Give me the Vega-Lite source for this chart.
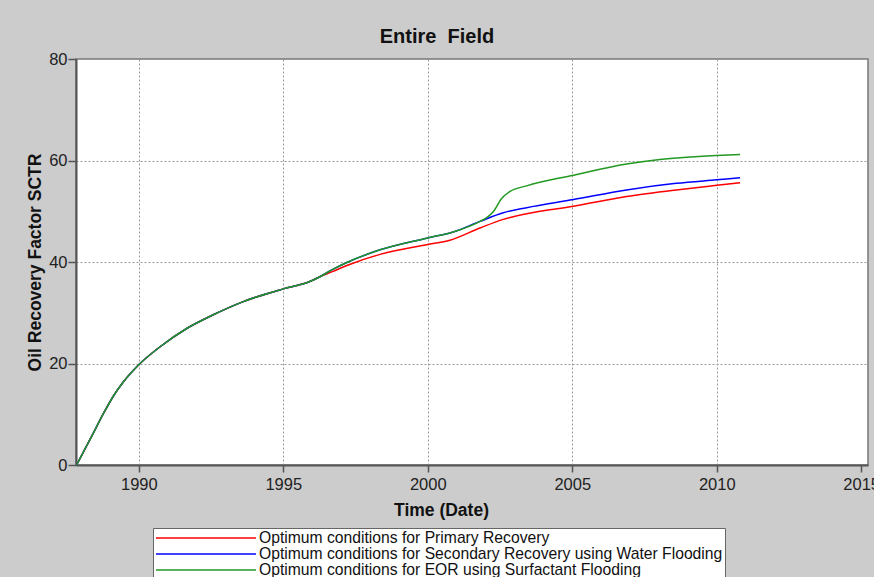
{
  "$schema": "https://vega.github.io/schema/vega-lite/v6.json",
  "autosize": "none",
  "width": 792,
  "height": 406,
  "padding": {"left": 76, "top": 59, "right": 6, "bottom": 112},
  "background": "#cccccc",
  "title": {
    "text": "Entire\u00a0 Field",
    "font": "Liberation Sans",
    "fontSize": 20,
    "fontWeight": "bold",
    "color": "#111111",
    "anchor": "middle",
    "dx": -35,
    "offset": 4
  },
  "config": {
    "view": {"fill": "white", "stroke": "#777777", "strokeWidth": 1.5},
    "axis": {
      "labelFont": "Liberation Sans",
      "labelFontSize": 16.5,
      "labelColor": "#222222",
      "titleFont": "Liberation Sans",
      "titleFontSize": 17.5,
      "titleFontWeight": "bold",
      "titleColor": "#111111",
      "domainColor": "#555555",
      "domainWidth": 2,
      "tickColor": "#555555",
      "tickWidth": 1.5,
      "gridColor": "#999999",
      "gridDash": [2, 2],
      "gridWidth": 1
    },
    "legend": {
      "orient": "none",
      "legendX": 77,
      "legendY": 469,
      "direction": "vertical",
      "symbolType": "stroke",
      "symbolSize": 10000,
      "symbolStrokeWidth": 1.5,
      "clipHeight": 16,
      "rowPadding": 0,
      "labelFont": "Liberation Sans",
      "labelFontSize": 15.7,
      "labelColor": "#111111",
      "labelOffset": 2,
      "labelLimit": 0,
      "padding": 2,
      "strokeColor": "#666666",
      "fillColor": "white",
      "title": null
    }
  },
  "data": {
    "values": [
      {"case": "Optimum conditions for Primary Recovery", "date": "1987-11-06", "rf": 0},
      {"case": "Optimum conditions for Primary Recovery", "date": "1988-05-26", "rf": 6.0},
      {"case": "Optimum conditions for Primary Recovery", "date": "1988-10-20", "rf": 10.4},
      {"case": "Optimum conditions for Primary Recovery", "date": "1989-02-14", "rf": 13.6},
      {"case": "Optimum conditions for Primary Recovery", "date": "1989-06-21", "rf": 16.4},
      {"case": "Optimum conditions for Primary Recovery", "date": "1989-12-28", "rf": 19.7},
      {"case": "Optimum conditions for Primary Recovery", "date": "1990-09-27", "rf": 23.3},
      {"case": "Optimum conditions for Primary Recovery", "date": "1991-08-29", "rf": 26.9},
      {"case": "Optimum conditions for Primary Recovery", "date": "1992-07-30", "rf": 29.6},
      {"case": "Optimum conditions for Primary Recovery", "date": "1993-08-14", "rf": 32.2},
      {"case": "Optimum conditions for Primary Recovery", "date": "1995-01-01", "rf": 34.7},
      {"case": "Optimum conditions for Primary Recovery", "date": "1995-11-24", "rf": 36.1},
      {"case": "Optimum conditions for Primary Recovery", "date": "1996-04-08", "rf": 37.1},
      {"case": "Optimum conditions for Primary Recovery", "date": "1996-09-12", "rf": 38.1},
      {"case": "Optimum conditions for Primary Recovery", "date": "1997-03-15", "rf": 39.3},
      {"case": "Optimum conditions for Primary Recovery", "date": "1998-05-08", "rf": 41.5},
      {"case": "Optimum conditions for Primary Recovery", "date": "1999-12-17", "rf": 43.4},
      {"case": "Optimum conditions for Primary Recovery", "date": "2000-10-08", "rf": 44.3},
      {"case": "Optimum conditions for Primary Recovery", "date": "2001-10-23", "rf": 46.7},
      {"case": "Optimum conditions for Primary Recovery", "date": "2002-08-14", "rf": 48.4},
      {"case": "Optimum conditions for Primary Recovery", "date": "2003-06-03", "rf": 49.5},
      {"case": "Optimum conditions for Primary Recovery", "date": "2005-01-15", "rf": 51.0},
      {"case": "Optimum conditions for Primary Recovery", "date": "2006-11-17", "rf": 52.9},
      {"case": "Optimum conditions for Primary Recovery", "date": "2008-08-07", "rf": 54.2},
      {"case": "Optimum conditions for Primary Recovery", "date": "2010-01-01", "rf": 55.1},
      {"case": "Optimum conditions for Primary Recovery", "date": "2010-10-23", "rf": 55.6},

      {"case": "Optimum conditions for Secondary Recovery using Water Flooding", "date": "1987-11-06", "rf": 0},
      {"case": "Optimum conditions for Secondary Recovery using Water Flooding", "date": "1988-05-26", "rf": 6.0},
      {"case": "Optimum conditions for Secondary Recovery using Water Flooding", "date": "1988-10-20", "rf": 10.4},
      {"case": "Optimum conditions for Secondary Recovery using Water Flooding", "date": "1989-02-14", "rf": 13.6},
      {"case": "Optimum conditions for Secondary Recovery using Water Flooding", "date": "1989-06-21", "rf": 16.4},
      {"case": "Optimum conditions for Secondary Recovery using Water Flooding", "date": "1989-12-28", "rf": 19.7},
      {"case": "Optimum conditions for Secondary Recovery using Water Flooding", "date": "1990-09-27", "rf": 23.3},
      {"case": "Optimum conditions for Secondary Recovery using Water Flooding", "date": "1991-08-29", "rf": 26.9},
      {"case": "Optimum conditions for Secondary Recovery using Water Flooding", "date": "1992-07-30", "rf": 29.6},
      {"case": "Optimum conditions for Secondary Recovery using Water Flooding", "date": "1993-08-14", "rf": 32.2},
      {"case": "Optimum conditions for Secondary Recovery using Water Flooding", "date": "1995-01-01", "rf": 34.7},
      {"case": "Optimum conditions for Secondary Recovery using Water Flooding", "date": "1995-11-24", "rf": 36.1},
      {"case": "Optimum conditions for Secondary Recovery using Water Flooding", "date": "1996-04-08", "rf": 37.1},
      {"case": "Optimum conditions for Secondary Recovery using Water Flooding", "date": "1996-09-12", "rf": 38.5},
      {"case": "Optimum conditions for Secondary Recovery using Water Flooding", "date": "1997-03-15", "rf": 39.9},
      {"case": "Optimum conditions for Secondary Recovery using Water Flooding", "date": "1998-05-08", "rf": 42.4},
      {"case": "Optimum conditions for Secondary Recovery using Water Flooding", "date": "1999-12-17", "rf": 44.7},
      {"case": "Optimum conditions for Secondary Recovery using Water Flooding", "date": "2000-11-17", "rf": 45.9},
      {"case": "Optimum conditions for Secondary Recovery using Water Flooding", "date": "2001-10-23", "rf": 48.0},
      {"case": "Optimum conditions for Secondary Recovery using Water Flooding", "date": "2002-08-14", "rf": 49.7},
      {"case": "Optimum conditions for Secondary Recovery using Water Flooding", "date": "2003-06-03", "rf": 50.7},
      {"case": "Optimum conditions for Secondary Recovery using Water Flooding", "date": "2005-01-15", "rf": 52.3},
      {"case": "Optimum conditions for Secondary Recovery using Water Flooding", "date": "2006-11-17", "rf": 54.2},
      {"case": "Optimum conditions for Secondary Recovery using Water Flooding", "date": "2008-08-07", "rf": 55.5},
      {"case": "Optimum conditions for Secondary Recovery using Water Flooding", "date": "2010-01-01", "rf": 56.2},
      {"case": "Optimum conditions for Secondary Recovery using Water Flooding", "date": "2010-10-23", "rf": 56.6},

      {"case": "Optimum conditions for EOR using Surfactant Flooding", "date": "1987-11-06", "rf": 0},
      {"case": "Optimum conditions for EOR using Surfactant Flooding", "date": "1988-05-26", "rf": 6.0},
      {"case": "Optimum conditions for EOR using Surfactant Flooding", "date": "1988-10-20", "rf": 10.4},
      {"case": "Optimum conditions for EOR using Surfactant Flooding", "date": "1989-02-14", "rf": 13.6},
      {"case": "Optimum conditions for EOR using Surfactant Flooding", "date": "1989-06-21", "rf": 16.4},
      {"case": "Optimum conditions for EOR using Surfactant Flooding", "date": "1989-12-28", "rf": 19.7},
      {"case": "Optimum conditions for EOR using Surfactant Flooding", "date": "1990-09-27", "rf": 23.3},
      {"case": "Optimum conditions for EOR using Surfactant Flooding", "date": "1991-08-29", "rf": 26.9},
      {"case": "Optimum conditions for EOR using Surfactant Flooding", "date": "1992-07-30", "rf": 29.6},
      {"case": "Optimum conditions for EOR using Surfactant Flooding", "date": "1993-08-14", "rf": 32.2},
      {"case": "Optimum conditions for EOR using Surfactant Flooding", "date": "1995-01-01", "rf": 34.7},
      {"case": "Optimum conditions for EOR using Surfactant Flooding", "date": "1995-11-24", "rf": 36.1},
      {"case": "Optimum conditions for EOR using Surfactant Flooding", "date": "1996-04-08", "rf": 37.1},
      {"case": "Optimum conditions for EOR using Surfactant Flooding", "date": "1996-09-12", "rf": 38.5},
      {"case": "Optimum conditions for EOR using Surfactant Flooding", "date": "1997-03-15", "rf": 39.9},
      {"case": "Optimum conditions for EOR using Surfactant Flooding", "date": "1998-05-08", "rf": 42.4},
      {"case": "Optimum conditions for EOR using Surfactant Flooding", "date": "1999-12-17", "rf": 44.7},
      {"case": "Optimum conditions for EOR using Surfactant Flooding", "date": "2000-11-17", "rf": 45.9},
      {"case": "Optimum conditions for EOR using Surfactant Flooding", "date": "2001-10-23", "rf": 48.0},
      {"case": "Optimum conditions for EOR using Surfactant Flooding", "date": "2002-01-20", "rf": 48.8},
      {"case": "Optimum conditions for EOR using Surfactant Flooding", "date": "2002-04-08", "rf": 49.9},
      {"case": "Optimum conditions for EOR using Surfactant Flooding", "date": "2002-07-23", "rf": 52.5},
      {"case": "Optimum conditions for EOR using Surfactant Flooding", "date": "2002-11-06", "rf": 53.9},
      {"case": "Optimum conditions for EOR using Surfactant Flooding", "date": "2003-06-03", "rf": 55.0},
      {"case": "Optimum conditions for EOR using Surfactant Flooding", "date": "2005-01-15", "rf": 57.1},
      {"case": "Optimum conditions for EOR using Surfactant Flooding", "date": "2006-11-17", "rf": 59.3},
      {"case": "Optimum conditions for EOR using Surfactant Flooding", "date": "2008-01-15", "rf": 60.2},
      {"case": "Optimum conditions for EOR using Surfactant Flooding", "date": "2010-01-01", "rf": 61.0},
      {"case": "Optimum conditions for EOR using Surfactant Flooding", "date": "2010-10-23", "rf": 61.2}
    ]
  },
  "mark": {"type": "line", "strokeWidth": 1.5, "interpolate": "monotone", "clip": true},
  "encoding": {
    "x": {
      "field": "date",
      "type": "temporal",
      "scale": {
        "type": "utc",
        "domain": [
          {"year": 1987, "month": 10, "date": 30, "utc": true},
          {"year": 2015, "month": 3, "date": 28, "utc": true}
        ]
      },
      "axis": {
        "title": "Time (Date)",
        "values": [
          {"year": 1990, "utc": true},
          {"year": 1995, "utc": true},
          {"year": 2000, "utc": true},
          {"year": 2005, "utc": true},
          {"year": 2010, "utc": true},
          {"year": 2015, "utc": true}
        ],
        "format": "%Y",
        "tickSize": 7,
        "labelPadding": 4,
        "labelFlush": false,
        "labelOverlap": false,
        "gridOpacity": {"condition": {"test": "utcyear(datum.value) >= 2015", "value": 0}, "value": 1},
        "titleX": 365,
        "titleY": 50,
        "titleBaseline": "alphabetic",
        "titleAlign": "center"
      }
    },
    "y": {
      "field": "rf",
      "type": "quantitative",
      "scale": {"domain": [0, 80], "nice": false},
      "axis": {
        "title": "Oil Recovery Factor SCTR",
        "values": [0, 20, 40, 60, 80],
        "tickSize": 8,
        "labelPadding": 1,
        "titleAngle": 270,
        "titleX": -36,
        "titleY": 203,
        "titleBaseline": "alphabetic",
        "titleAlign": "center"
      }
    },
    "color": {
      "field": "case",
      "type": "nominal",
      "scale": {
        "domain": [
          "Optimum conditions for Primary Recovery",
          "Optimum conditions for Secondary Recovery using Water Flooding",
          "Optimum conditions for EOR using Surfactant Flooding"
        ],
        "range": ["#ff0000", "#0000ff", "#229922"]
      }
    }
  }
}
